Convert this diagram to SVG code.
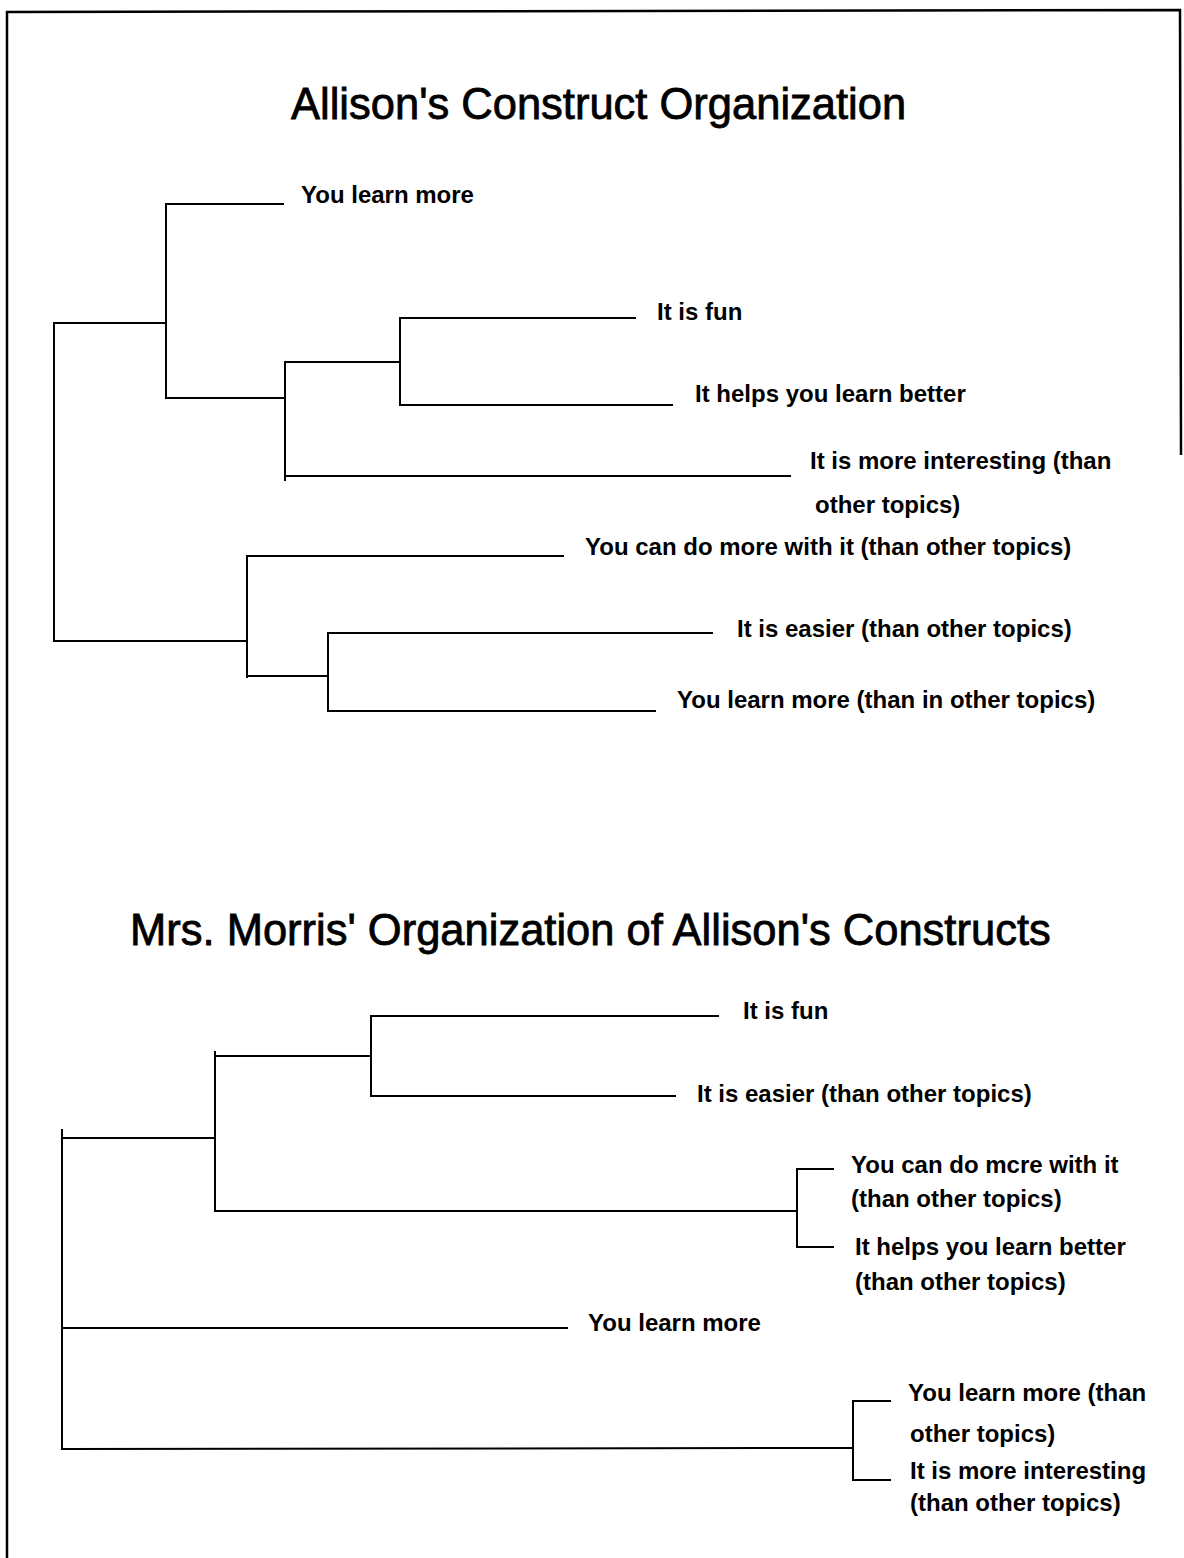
<svg xmlns="http://www.w3.org/2000/svg" width="1184" height="1558" viewBox="0 0 1184 1558">
<style>
  .ln { stroke:#000; stroke-width:2; fill:none; stroke-linecap:square; }
  .bd { stroke:#000; stroke-width:2.5; fill:none; }
  .t { font-family:"Liberation Sans", Arial, sans-serif; font-weight:bold; font-size:24px; fill:#000; }
  .title { font-family:"Liberation Sans", Arial, sans-serif; font-size:43.5px; fill:#000; stroke:#000; stroke-width:0.8; }
</style>
<rect width="1184" height="1558" fill="#fff"/>
<g id="frame">
  <path class="bd" d="M7,1558 L7,12 L1180,10 L1181,455"/>
</g>
<g id="titles">
  <text id="title1" class="title" x="291" y="119">Allison's Construct Organization</text>
  <text id="title2" class="title" x="130" y="945">Mrs. Morris' Organization of Allison's Constructs</text>
</g>
<g id="connectors">
  <!-- top tree -->
  <path class="ln" d="M166,323 L54,323 L54,641 L247,641"/>
  <path class="ln" d="M283,204 L166,204 L166,398"/>
  <path class="ln" d="M168,398 L285,398"/>
  <path class="ln" d="M400,362 L285,362 L285,480"/>
  <path class="ln" d="M635,318 L400,318 L400,405 L672,405"/>
  <path class="ln" d="M285,476 L790,476"/>
  <path class="ln" d="M563,556 L247,556 L247,677"/>
  <path class="ln" d="M249,676 L328,676"/>
  <path class="ln" d="M712,633 L328,633 L328,711 L655,711"/>
  <!-- bottom tree -->
  <path class="ln" d="M62,1130 L62,1449 L853,1448"/>
  <path class="ln" d="M62,1138 L215,1138"/>
  <path class="ln" d="M215,1052 L215,1211 L797,1211"/>
  <path class="ln" d="M216,1056 L371,1056"/>
  <path class="ln" d="M718,1016 L371,1016 L371,1096 L675,1096"/>
  <path class="ln" d="M833,1169 L797,1169 L797,1247 L833,1247"/>
  <path class="ln" d="M63,1328 L567,1328"/>
  <path class="ln" d="M890,1401 L853,1401 L853,1480 L890,1480"/>
</g>
<g id="n-top-learn-more"><text class="t" x="301" y="203">You learn more</text></g>
<g id="n-top-fun"><text class="t" x="657" y="320">It is fun</text></g>
<g id="n-top-helps"><text class="t" x="695" y="402">It helps you learn better</text></g>
<g id="n-top-interesting"><text class="t" x="810" y="469">It is more interesting (than</text><text class="t" x="815" y="513">other topics)</text></g>
<g id="n-top-do-more"><text class="t" x="585" y="555">You can do more with it (than other topics)</text></g>
<g id="n-top-easier"><text class="t" x="737" y="637">It is easier (than other topics)</text></g>
<g id="n-top-learn-more-than"><text class="t" x="677" y="708">You learn more (than in other topics)</text></g>
<g id="n-bot-fun"><text class="t" x="743" y="1019">It is fun</text></g>
<g id="n-bot-easier"><text class="t" x="697" y="1102">It is easier (than other topics)</text></g>
<g id="n-bot-do-more"><text class="t" x="851" y="1173">You can do mcre with it</text><text class="t" x="851" y="1207">(than other topics)</text></g>
<g id="n-bot-helps"><text class="t" x="855" y="1255">It helps you learn better</text><text class="t" x="855" y="1290">(than other topics)</text></g>
<g id="n-bot-learn-more"><text class="t" x="588" y="1331">You learn more</text></g>
<g id="n-bot-learn-more-than"><text class="t" x="908" y="1401">You learn more (than</text><text class="t" x="910" y="1442">other topics)</text></g>
<g id="n-bot-interesting"><text class="t" x="910" y="1479">It is more interesting</text><text class="t" x="910" y="1511">(than other topics)</text></g>
</svg>
